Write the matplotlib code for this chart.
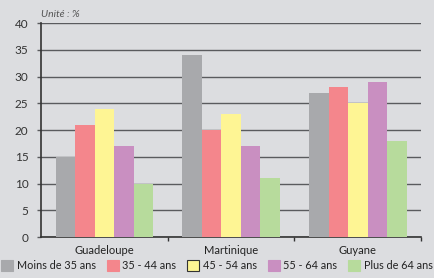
import matplotlib.pyplot as plt
import numpy as np
from matplotlib.patches import Patch

plt.rcParams['font.family'] = ['Lato', 'DejaVu Sans']

# --- Data ---
regions = ['Guadeloupe', 'Martinique', 'Guyane']
age_groups = ['Moins de 35 ans', '35 - 44 ans', '45 - 54 ans', '55 - 64 ans', 'Plus de 64 ans']
moins_35 = [15, 34, 27]
de_35_44 = [21, 20, 28]
de_45_54 = [24, 23, 25]
de_55_64 = [17, 17, 29]
plus_64 = [10, 11, 18]
y_ticks = [0, 5, 10, 15, 20, 25, 30, 35, 40]

series = [moins_35, de_35_44, de_45_54, de_55_64, plus_64]
colors = ['#a8a9ac', '#f4868c', '#fef594', '#c98fc1', '#b7db9c']
bg = '#dcdde0'

# --- Plot ---
fig = plt.figure(figsize=(4.34, 2.78), dpi=100, facecolor=bg)
ax = fig.add_axes([0.0945, 0.147, 0.876, 0.77], facecolor=bg)

x = np.arange(len(regions))
width = 0.154
for i, (vals, col) in enumerate(zip(series, colors)):
    ax.bar(x + (i - 2) * width, vals, width, color=col, zorder=3)

ax.set_xlim(-0.5, 2.5)
ax.set_ylim(0, 40)
ax.set_yticks(y_ticks)
ax.yaxis.grid(True, color='#5a5b5e', linewidth=1.0, zorder=0)
ax.tick_params(axis='y', length=3, width=1, color='#5a5b5e', labelsize=8.5,
               labelcolor='#333333', pad=6)

# category ticks on the boundaries, labels centred
ax.set_xticks([0.5, 1.5, 2.5])
ax.set_xticklabels([])
ax.set_xticks(x, minor=True)
ax.set_xticklabels(regions, minor=True, fontsize=8, color='#222222')
ax.tick_params(axis='x', which='major', length=3, width=1, color='#333333', direction='out')
ax.tick_params(axis='x', which='minor', length=0, pad=6)

for s in ['top', 'right']:
    ax.spines[s].set_visible(False)
ax.spines['left'].set_color('#333333')
ax.spines['bottom'].set_color('#333333')
ax.spines['left'].set_linewidth(1.2)
ax.spines['bottom'].set_linewidth(1.2)

ax.text(0.0, 1.02, 'Unité : %', transform=ax.transAxes, fontsize=7.5,
        style='italic', color='#555555', va='bottom')

handles = []
for col, lab in zip(colors, age_groups):
    ec = '#333333' if lab == '45 - 54 ans' else col
    handles.append(Patch(facecolor=col, edgecolor=ec, linewidth=0.8, label=lab))
fig.legend(handles=handles, loc='lower center', bbox_to_anchor=(0.5, -0.01), ncol=5,
           frameon=False, fontsize=7.8, handlelength=1.1, handleheight=1.1,
           handletextpad=0.35, columnspacing=1.0, labelcolor='#222222')

fig.savefig('out.png', dpi=100, facecolor=bg)
